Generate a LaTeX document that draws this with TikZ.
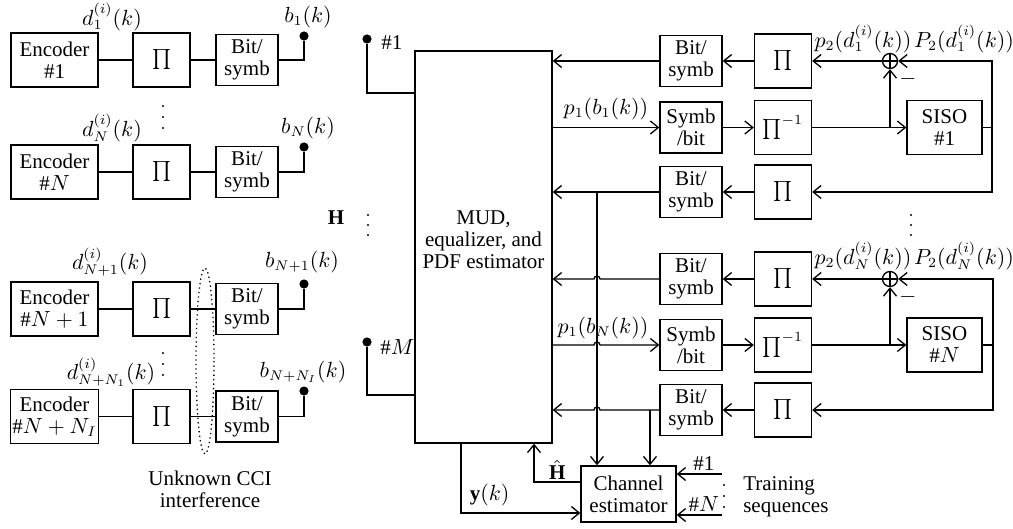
\documentclass[tikz,border=0pt]{standalone}
\usepackage{fontspec}
\setmainfont{Liberation Serif}
\usetikzlibrary{arrows.meta}
\begin{document}
\begin{tikzpicture}[x=0.5pt,y=-0.5pt, line width=0.65pt,
  font=\fontsize{10.5}{11}\selectfont,
  arr/.style={-{Straight Barb[length=4pt,width=6.5pt]}},
  box/.style={draw, align=center, inner sep=1pt},
  enc/.style={box, minimum width=43.5pt, minimum height=27pt},
  pib/.style={box, minimum width=28.5pt, minimum height=27pt},
  bsb/.style={box, minimum width=31pt, minimum height=25.5pt},
  sisob/.style={box, minimum width=37.5pt, minimum height=27pt},
  chb/.style={box, minimum width=47.5pt, minimum height=28pt},
  mudb/.style={draw, minimum width=68.5pt, minimum height=196pt},
  dotn/.style={circle, fill, inner sep=0pt, minimum size=4.6pt},
  sumn/.style={circle, draw, inner sep=0pt, minimum size=7.5pt},
  ell/.style={dash pattern=on 0.65pt off 1.6pt}]
\useasboundingbox (0,0) rectangle (1013,529);

% ---------------- left: transmitters ----------------
\node[enc] (e1) at (54.5,60) {Encoder\\\#1};
\node[pib] (p1) at (161.5,60) {$\prod$};
\node[bsb] (s1) at (247,60) {Bit/\\symb};
\node[dotn] (o1) at (304,36) {};
\draw (e1) -- (p1);
\draw (p1) -- (s1);
\draw (s1.east) -| (o1);
\node (ld1) at (112,17) {$d_1^{(i)}(k)$};
\node (lb1) at (308,17) {$b_1(k)$};

\node[enc] (eN) at (54.5,172) {Encoder\\\#$N$};
\node[pib] (pN) at (161.5,172) {$\prod$};
\node[bsb] (sN) at (247,172) {Bit/\\symb};
\node[dotn] (oN) at (304,147) {};
\draw (eN) -- (pN);
\draw (pN) -- (sN);
\draw (sN.east) -| (oN);
\node (ldN) at (112,128) {$d_N^{(i)}(k)$};
\node (lbN) at (308,128) {$b_N(k)$};
\foreach \y in {106,117,128} \fill (163,\y) circle[radius=1.2];

\node[enc] (eN1) at (54.5,309) {Encoder\\\#$N+1$};
\node[pib] (pN1) at (161.5,309) {$\prod$};
\node[bsb] (sN1) at (247,309) {Bit/\\symb};
\node[dotn] (oN1) at (304,284) {};
\draw (eN1) -- (pN1);
\draw (pN1) -- (sN1);
\draw (sN1.east) -| (oN1);
\node (ldN1) at (110,262) {$d_{N+1}^{(i)}(k)$};
\node (lbN1) at (302,262) {$b_{N+1}(k)$};

\node[enc] (eNI) at (54.5,416.5) {Encoder\\\#$N+N_I$};
\node[pib] (pNI) at (161.5,416.5) {$\prod$};
\node[bsb] (sNI) at (247,416.5) {Bit/\\symb};
\node[dotn] (oNI) at (304,391) {};
\draw (eNI) -- (pNI);
\draw (pNI) -- (sNI);
\draw (sNI.east) -| (oNI);
\node (ldNI) at (111,372) {$d_{N+N_1}^{(i)}(k)$};
\node (lbNI) at (303,372) {$b_{N+N_I}(k)$};
\foreach \y in {353,364,375} \fill (163,\y) circle[radius=1.2];

\draw[ell] (205,361) ellipse[x radius=9, y radius=93];
\node[align=center] (cci) at (210,489) {Unknown CCI\\interference};

% ---------------- receiver front ----------------
\node[mudb] (mud) at (483.5,247) {};
\node[align=center] (mudt) at (483.5,240) {MUD,\\equalizer, and\\PDF estimator};

\node[dotn] (i1) at (367,39) {};
\node[anchor=west] (i1l) at (374,43) {\#1};
\coordinate (h1) at (0,93);
\draw (i1) |- (mud.west |- h1);
\node[dotn] (iM) at (367,342) {};
\node[anchor=west] (iMl) at (373,347) {\#$M$};
\coordinate (hM) at (0,395);
\draw (iM) |- (mud.west |- hM);
\node (Hl) at (336,218) {$\mathbf{H}$};
\foreach \y in {215,225,235} \fill (368,\y) circle[radius=1.2];

% ---------------- user 1 loop ----------------
\node[bsb] (a1) at (691,61) {Bit/\\symb};
\node[pib] (pa1) at (783,61) {$\prod$};
\node[sumn] (sum1) at (890,61) {};
\node[bsb] (b1) at (691,127.5) {Symb\\/bit};
\node[pib] (pb1) at (783,127.5) {$\prod^{-1}$};
\node[sisob] (si1) at (944.5,127.5) {SISO\\\#1};
\node[bsb] (c1) at (691,192) {Bit/\\symb};
\node[pib] (pc1) at (783,192) {$\prod$};
\coordinate (r1) at (992,127.5);
\coordinate (j1) at (890,127.5);
\coordinate (v1) at (597,192);

\draw (sum1.north) -- (sum1.south) (sum1.west) -- (sum1.east);
\draw (si1) -- (r1);
\draw[arr] (r1) |- (sum1);
\draw[arr] (r1) |- (pc1);
\draw[arr] (sum1) -- (pa1);
\draw[arr] (pa1) -- (a1);
\draw[arr] (a1) -- (a1 -| mud.east);
\draw[arr] (mud.east |- b1) -- node[above] {$p_1(b_1(k))$} (b1);
\draw[arr] (b1) -- (pb1);
\draw[arr] (pb1) -- (si1);
\draw[arr] (j1) -- (sum1);
\draw[arr] (pc1) -- (c1);
\draw[arr] (c1) -- (c1 -| mud.east);
\node (m1) at (908,79) {$-$};
\node (lp1) at (863,39) {$p_2(d_1^{(i)}(k))$};
\node (lP1) at (964,39) {$P_2(d_1^{(i)}(k))$};

\foreach \y in {215,225,235} \fill (911,\y) circle[radius=1.2];

% ---------------- user N loop ----------------
\node[bsb] (a2) at (691,279) {Bit/\\symb};
\node[pib] (pa2) at (783,279) {$\prod$};
\node[sumn] (sum2) at (890,279) {};
\node[bsb] (b2) at (691,345) {Symb\\/bit};
\node[pib] (pb2) at (783,345) {$\prod^{-1}$};
\node[sisob] (si2) at (944.5,345) {SISO\\\#$N$};
\node[bsb] (c2) at (691,410) {Bit/\\symb};
\node[pib] (pc2) at (783,410) {$\prod$};
\coordinate (r2) at (993,345);
\coordinate (j2) at (890,345);
\coordinate (v2) at (650,410);

\draw (sum2.north) -- (sum2.south) (sum2.west) -- (sum2.east);
\draw (si2) -- (r2);
\draw[arr] (r2) |- (sum2);
\draw[arr] (r2) |- (pc2);
\draw[arr] (sum2) -- (pa2);
\draw[arr] (pa2) -- (a2);
\draw[arr] (a2) -- (600,279) arc[start angle=0,end angle=180,radius=1.5pt] -- (a2 -| mud.east);
\draw[arr] (mud.east |- b2) -- (594,345) arc[start angle=180,end angle=0,radius=1.5pt] -- (b2);
\node (lpb2) at (603,328) {$p_1(b_N(k))$};
\draw[arr] (b2) -- (pb2);
\draw[arr] (pb2) -- (si2);
\draw[arr] (j2) -- (sum2);
\draw[arr] (pc2) -- (c2);
\draw[arr] (c2) -- (600,410) arc[start angle=0,end angle=180,radius=1.5pt] -- (c2 -| mud.east);
\node (m2) at (908,297) {$-$};
\node (lp2) at (863,256) {$p_2(d_N^{(i)}(k))$};
\node (lP2) at (964,256) {$P_2(d_N^{(i)}(k))$};

% ---------------- channel estimator ----------------
\node[chb] (ch) at (628.5,494) {Channel\\estimator};
\draw[arr] (v1) -- (v1 |- ch.north);
\draw[arr] (v2) -- (v2 |- ch.north);
\coordinate (hh) at (534,482);
\coordinate (yy) at (461,513);
\draw[arr] (ch.west |- hh) -| node[pos=0.25, above, inner sep=1pt] {$\hat{\mathbf{H}}$} (mud.south -| hh);
\draw[arr] (mud.south -| yy) |- node[pos=0.62, above] {$\mathbf{y}(k)$} (ch.west |- yy);
\coordinate (t1) at (722,474);
\coordinate (tN) at (722,515);
\draw[arr] (t1) -- node[above, pos=0.4, inner sep=1.5pt] {\#1} (ch.east |- t1);
\draw[arr] (tN) -- node[above, pos=0.4, inner sep=1.5pt] {\#$N$} (ch.east |- tN);
\foreach \y in {485,496,507} \fill (724,\y) circle[radius=1.2];
\node[anchor=west, align=left] (tr) at (736,497) {Training\\sequences};
\end{tikzpicture}
\end{document}
